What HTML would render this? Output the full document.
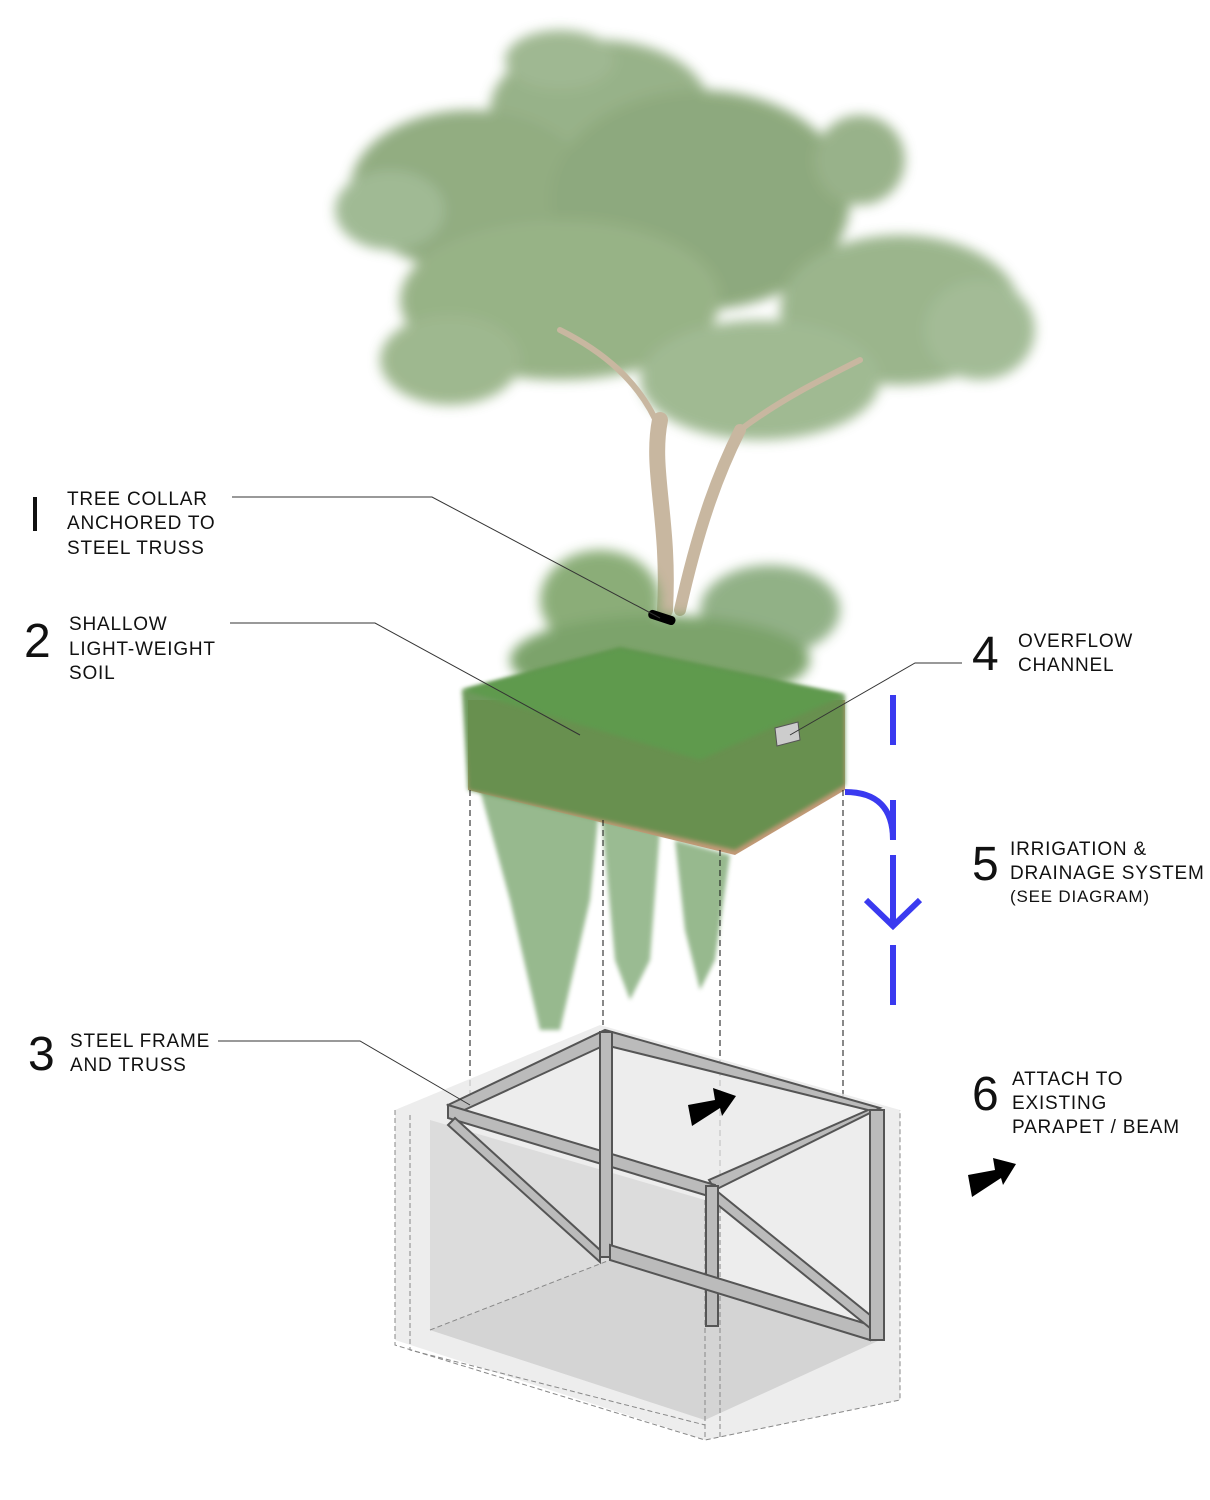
<!DOCTYPE html>
<html><head><meta charset="utf-8"><style>
body{margin:0;background:#fff;width:1210px;height:1500px;overflow:hidden}
svg{display:block}
.t{font-family:"Liberation Sans",sans-serif;font-size:19px;letter-spacing:0.8px;fill:#111}
.n{font-family:"Liberation Sans",sans-serif;font-size:48px;fill:#111;font-weight:300}
</style></head><body>
<svg width="1210" height="1500" viewBox="0 0 1210 1500">
<defs>
<filter id="b"><feGaussianBlur stdDeviation="6"/></filter>
<filter id="b2"><feGaussianBlur stdDeviation="2"/></filter>
</defs>
<g filter="url(#b)" opacity="0.85">
<ellipse cx="600" cy="110" rx="110" ry="70" fill="#86a574"/>
<ellipse cx="470" cy="190" rx="120" ry="80" fill="#7f9f6c"/>
<ellipse cx="700" cy="200" rx="150" ry="110" fill="#7a9b68"/>
<ellipse cx="860" cy="160" rx="45" ry="45" fill="#87a576"/>
<ellipse cx="900" cy="310" rx="120" ry="75" fill="#8aa979"/>
<ellipse cx="560" cy="300" rx="160" ry="80" fill="#86a672"/>
<ellipse cx="450" cy="360" rx="70" ry="45" fill="#8eac7c"/>
<ellipse cx="760" cy="380" rx="120" ry="60" fill="#90ae80"/>
<ellipse cx="390" cy="210" rx="55" ry="40" fill="#90ae82"/>
<ellipse cx="980" cy="330" rx="55" ry="50" fill="#93b084"/>
<ellipse cx="560" cy="60" rx="55" ry="30" fill="#8fac7f"/>
</g>
<g stroke="#c8b7a0" stroke-linecap="round" fill="none">
<path d="M665 610 C670 520 650 470 660 420" stroke-width="16"/>
<path d="M680 610 C700 520 720 470 740 430" stroke-width="12"/>
<path d="M660 430 C640 380 600 350 560 330" stroke-width="6"/>
<path d="M740 430 C780 400 820 380 860 360" stroke-width="6"/>
</g>
<g filter="url(#b)" opacity="0.9">
<ellipse cx="600" cy="600" rx="60" ry="50" fill="#7fa56a"/>
<ellipse cx="770" cy="610" rx="70" ry="45" fill="#86a97a"/>
<ellipse cx="660" cy="660" rx="150" ry="45" fill="#6e9a5c"/>
</g>
<g filter="url(#b2)" opacity="0.8">
<path d="M480 790 L600 800 L590 900 L560 1030 L540 1030 L510 900 Z" fill="#7ea873"/>
<path d="M600 800 L660 830 L650 960 L630 1000 L615 960 Z" fill="#82ab78"/>
<path d="M675 840 L730 855 L715 960 L700 990 L685 930 Z" fill="#7ea873"/>
</g>
<polygon points="468,700 845,700 845,790 735,855 468,790" fill="#c49a78"/>
<polygon points="462,690 620,648 845,695 845,785 735,850 468,790" fill="#5e8f4c" filter="url(#b2)" opacity="0.9"/>
<polygon points="462,690 620,648 845,695 700,760" fill="#5f9a4e" filter="url(#b2)"/>
<polygon points="775,728 798,722 800,740 777,746" fill="#ccc" stroke="#555"/>
<rect x="648" y="613" width="28" height="9" rx="4" fill="#000" transform="rotate(18 662 617)"/>
<g stroke="#111" stroke-dasharray="6,4" stroke-width="1">
<line x1="470" y1="790" x2="470" y2="1100"/>
<line x1="603" y1="820" x2="603" y2="1025"/>
<line x1="720" y1="850" x2="720" y2="1180"/>
<line x1="843" y1="790" x2="843" y2="1100"/>
</g>
<g stroke="#3a3af0" stroke-width="6" fill="none">
<line x1="893" y1="695" x2="893" y2="745"/>
<path d="M845 792 Q893 792 893 840"/>
<line x1="893" y1="800" x2="893" y2="840"/>
<line x1="893" y1="855" x2="893" y2="925"/>
<polyline points="866,900 893,926 920,900"/>
<line x1="893" y1="945" x2="893" y2="1005"/>
</g>
<polygon points="395,1110 600,1025 900,1110 900,1400 705,1440 395,1340" fill="#e8e8e8" opacity="0.8"/>
<polygon points="430,1120 430,1330 705,1420 705,1200" fill="#dcdcdc"/>
<polygon points="430,1330 610,1260 880,1340 705,1420" fill="#d4d4d4"/>
<g stroke="#888" stroke-dasharray="5,3" fill="none">
<polyline points="395,1110 395,1345 705,1440 900,1400 900,1110"/>
<polyline points="410,1115 410,1350 705,1425"/>
<line x1="705" y1="1200" x2="705" y2="1440"/>
<line x1="720" y1="1200" x2="720" y2="1440"/>
<polyline points="430,1330 610,1260 880,1340"/>
</g>
<g stroke="#555" stroke-width="2" fill="#bbb">
<polygon points="448,1105 605,1030 880,1108 715,1190 709,1180 868,1110 605,1045 460,1112"/>
<polygon points="448,1105 715,1185 715,1198 448,1118"/>
<rect x="600" y="1032" width="12" height="225"/>
<rect x="706" y="1186" width="12" height="140"/>
<rect x="870" y="1110" width="14" height="230"/>
<polygon points="610,1245 870,1325 870,1340 610,1260"/>
<polygon points="455,1118 600,1250 600,1262 448,1125"/>
<polygon points="718,1192 870,1315 870,1328 718,1205"/>
</g>
<polygon points="688,1105 715,1100 713,1088 736,1096 722,1116 720,1108 692,1126" fill="#000"/>
<polygon points="968,1175 995,1170 993,1158 1016,1164 1003,1185 1001,1178 972,1197" fill="#000"/>
<g stroke="#333" stroke-width="1" fill="none">
<polyline points="232,497 432,497 660,618"/>
<polyline points="230,623 375,623 580,735"/>
<polyline points="962,663 915,663 790,735"/>
<polyline points="218,1041 360,1041 470,1105"/>
</g>
<rect x="33" y="497" width="4" height="34" fill="#111"/>
<text class="t" x="67" y="505">TREE COLLAR</text>
<text class="t" x="67" y="529">ANCHORED TO</text>
<text class="t" x="67" y="554">STEEL TRUSS</text>
<text class="n" x="24" y="657">2</text>
<text class="t" x="69" y="630">SHALLOW</text>
<text class="t" x="69" y="655">LIGHT-WEIGHT</text>
<text class="t" x="69" y="679">SOIL</text>
<text class="n" x="28" y="1070">3</text>
<text class="t" x="70" y="1047">STEEL FRAME</text>
<text class="t" x="70" y="1071">AND TRUSS</text>
<text class="n" x="972" y="670">4</text>
<text class="t" x="1018" y="647">OVERFLOW</text>
<text class="t" x="1018" y="671">CHANNEL</text>
<text class="n" x="972" y="880">5</text>
<text class="t" x="1010" y="855">IRRIGATION &amp;</text>
<text class="t" x="1010" y="879">DRAINAGE SYSTEM</text>
<text class="t" x="1010" y="902" style="font-size:17px">(SEE DIAGRAM)</text>
<text class="n" x="972" y="1110">6</text>
<text class="t" x="1012" y="1085">ATTACH TO</text>
<text class="t" x="1012" y="1109">EXISTING</text>
<text class="t" x="1012" y="1133">PARAPET / BEAM</text>
</svg>
</body></html>
